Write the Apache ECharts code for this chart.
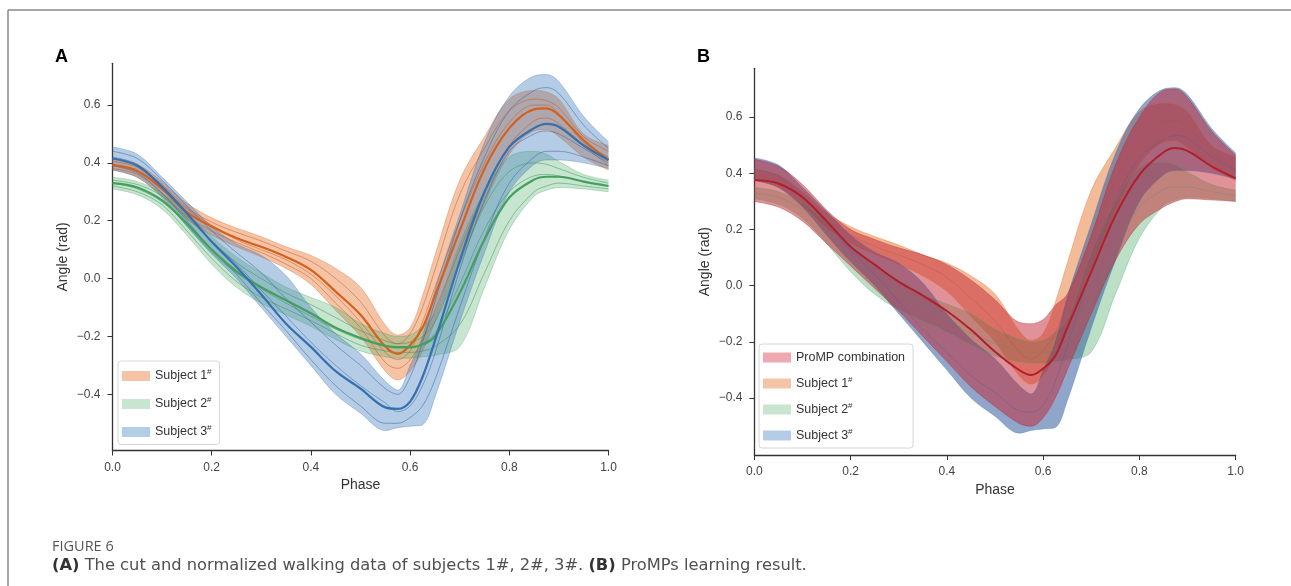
<!DOCTYPE html>
<html><head><meta charset="utf-8">
<script src="https://cdn.jsdelivr.net/npm/echarts@6/dist/echarts.min.js"></script>
<style>html,body{margin:0;padding:0;background:#fff}#c{width:1291px;height:586px}</style>
</head><body><div id="c"></div>
<script>
// ---- data (phase grid and values) ----
const phase = [0,0.05,0.1,0.15,0.2,0.25,0.3,0.35,0.4,0.45,0.5,0.55,0.575,0.6,0.625,0.65,0.7,0.75,0.8,0.85,0.875,0.9,0.95,1.0];
const yTicks = [-0.4,-0.2,0,0.2,0.4,0.6];

const s1Mean  = [0.392,0.372,0.31,0.23,0.18,0.14,0.11,0.075,0.03,-0.045,-0.125,-0.235,-0.26,-0.23,-0.17,-0.06,0.165,0.38,0.52,0.585,0.588,0.565,0.478,0.41];
const s1Upper = [0.415,0.395,0.335,0.26,0.21,0.175,0.145,0.11,0.08,0.035,-0.03,-0.16,-0.195,-0.17,-0.06,0.08,0.34,0.49,0.62,0.65,0.645,0.62,0.50,0.46];
const s1Lower = [0.375,0.35,0.285,0.205,0.15,0.11,0.075,0.035,-0.02,-0.11,-0.2,-0.32,-0.35,-0.32,-0.25,-0.15,0.06,0.26,0.43,0.51,0.515,0.49,0.42,0.375];
const s1TrialA = [0.405,0.385,0.325,0.245,0.195,0.16,0.13,0.095,0.06,0.0,-0.08,-0.2,-0.225,-0.19,-0.1,0.03,0.29,0.45,0.58,0.62,0.615,0.59,0.49,0.44];
const s1TrialB = [0.38,0.36,0.295,0.215,0.165,0.125,0.09,0.05,0.0,-0.085,-0.17,-0.29,-0.31,-0.28,-0.21,-0.11,0.1,0.3,0.46,0.545,0.555,0.535,0.46,0.39];
const s1TrialC = [0.395,0.375,0.315,0.24,0.185,0.135,0.1,0.065,0.015,-0.06,-0.15,-0.255,-0.28,-0.25,-0.15,-0.03,0.2,0.4,0.54,0.6,0.6,0.57,0.47,0.42];

const s2Mean  = [0.33,0.315,0.27,0.19,0.10,0.025,-0.03,-0.075,-0.12,-0.17,-0.205,-0.232,-0.237,-0.237,-0.228,-0.2,-0.05,0.135,0.28,0.342,0.352,0.352,0.335,0.32];
const s2Upper = [0.35,0.335,0.295,0.225,0.145,0.075,0.02,-0.03,-0.065,-0.1,-0.155,-0.19,-0.2,-0.195,-0.165,-0.12,0.12,0.30,0.42,0.44,0.43,0.405,0.36,0.34];
const s2Lower = [0.31,0.29,0.24,0.15,0.05,-0.03,-0.085,-0.125,-0.165,-0.21,-0.25,-0.27,-0.275,-0.275,-0.27,-0.265,-0.235,-0.03,0.17,0.285,0.305,0.315,0.31,0.30];
const s2TrialA = [0.34,0.325,0.285,0.21,0.13,0.055,0.0,-0.05,-0.09,-0.135,-0.18,-0.215,-0.225,-0.22,-0.2,-0.15,0.05,0.25,0.37,0.4,0.395,0.38,0.35,0.33];
const s2TrialB = [0.32,0.3,0.255,0.165,0.07,-0.01,-0.065,-0.105,-0.145,-0.19,-0.23,-0.25,-0.255,-0.255,-0.25,-0.235,-0.16,0.02,0.2,0.3,0.32,0.33,0.32,0.31];
const s2TrialC = [0.33,0.31,0.265,0.185,0.09,0.02,-0.035,-0.085,-0.13,-0.175,-0.21,-0.235,-0.24,-0.24,-0.225,-0.19,-0.02,0.17,0.3,0.355,0.36,0.355,0.335,0.32];

const s3Mean  = [0.415,0.39,0.317,0.225,0.127,0.04,-0.055,-0.156,-0.236,-0.32,-0.38,-0.445,-0.45,-0.425,-0.34,-0.215,0.06,0.30,0.455,0.52,0.535,0.525,0.46,0.41];
const s3Upper = [0.455,0.43,0.35,0.265,0.18,0.12,0.08,0.01,-0.1,-0.19,-0.26,-0.355,-0.385,-0.3,-0.2,-0.04,0.22,0.47,0.63,0.70,0.705,0.68,0.56,0.473];
const s3Lower = [0.375,0.35,0.28,0.18,0.085,0.0,-0.1,-0.2,-0.3,-0.4,-0.465,-0.525,-0.515,-0.51,-0.505,-0.41,-0.15,0.09,0.3,0.395,0.41,0.41,0.40,0.38];
const s3TrialA = [0.44,0.415,0.34,0.25,0.165,0.09,0.02,-0.07,-0.15,-0.23,-0.3,-0.38,-0.4,-0.34,-0.22,-0.08,0.2,0.42,0.58,0.65,0.66,0.64,0.53,0.45];
const s3TrialB = [0.39,0.365,0.295,0.2,0.1,0.015,-0.085,-0.18,-0.28,-0.37,-0.44,-0.5,-0.5,-0.48,-0.44,-0.35,-0.1,0.14,0.33,0.42,0.44,0.44,0.42,0.39];
const s3TrialC = [0.42,0.395,0.32,0.23,0.13,0.05,-0.04,-0.13,-0.22,-0.3,-0.37,-0.43,-0.46,-0.44,-0.37,-0.26,0.03,0.27,0.44,0.5,0.51,0.5,0.45,0.4];

const promMean  = [0.376,0.364,0.315,0.23,0.139,0.075,0.014,-0.035,-0.09,-0.157,-0.235,-0.3,-0.318,-0.295,-0.25,-0.15,0.05,0.25,0.395,0.475,0.49,0.48,0.425,0.382];
const promUpper = [0.45,0.425,0.36,0.27,0.2,0.165,0.135,0.11,0.075,0.02,-0.05,-0.13,-0.135,-0.12,-0.07,-0.03,0.18,0.43,0.6,0.695,0.7,0.67,0.55,0.465];
const promLower = [0.30,0.28,0.23,0.15,0.07,-0.01,-0.09,-0.18,-0.27,-0.36,-0.43,-0.49,-0.5,-0.47,-0.4,-0.3,-0.1,0.09,0.22,0.28,0.30,0.31,0.305,0.30];

const names = ['Subject 1#','Subject 2#','Subject 3#'];
const promName = 'ProMP combination';

// ---- styles ----
const C = {
  s1:{line:'#d4611c', thin:'#c45a1c', fill:'rgba(232,112,40,0.42)'},
  s2:{line:'#44a05e', thin:'#3b8f55', fill:'rgba(70,170,95,0.30)'},
  s3:{line:'#3670ae', thin:'#2f629c', fill:'rgba(60,120,190,0.38)'},
  pr:{line:'#c0182a', fill:'rgba(214,39,60,0.40)'}
};
const CB = {
  s1:{line:'#d9651f', fill:'rgba(232,112,40,0.48)'},
  s2:{line:'#48a462', fill:'rgba(70,170,95,0.36)'},
  s3:{line:'#3a74b2', fill:'rgba(55,95,160,0.56)'},
  pr:{line:'#b0202c', fill:'rgba(195,35,50,0.50)'}
};
const SM = 0.35;
const FONT = 'Liberation Sans';

const pts = arr => phase.map((x,i)=>[x,arr[i]]);
// value-first pairs so that stacking acts on the value (y) dimension
const vPts = arr => phase.map((x,i)=>[arr[i],x]);
const vGap = (up,lo) => phase.map((x,i)=>[+(up[i]-lo[i]).toFixed(4),x]);

function band(name, g, lo, up, col, id){
  return [
    {type:'line', name:'_lo_'+id, xAxisIndex:g, yAxisIndex:g, stack:id, stackStrategy:'all', data:vPts(lo), encode:{x:1,y:0},
     symbol:'none', smooth:SM, lineStyle:{color:col.line, width:0.8, opacity:0.4}, silent:true},
    {type:'line', name:name, xAxisIndex:g, yAxisIndex:g, stack:id, stackStrategy:'all', data:vGap(up,lo), encode:{x:1,y:0},
     symbol:'none', smooth:SM, lineStyle:{color:col.line, width:0.8, opacity:0.4}, itemStyle:{color:col.fill},
     areaStyle:{color:col.fill, opacity:1}, silent:true}
  ];
}
function line(name, g, arr, color, width, opacity){
  return {type:'line', name:name, xAxisIndex:g, yAxisIndex:g, data:pts(arr), symbol:'none', smooth:SM,
    lineStyle:{color:color, width:width, opacity:opacity}, itemStyle:{color:color}, silent:true};
}

const series = [];
// Panel A
series.push(...band(names[0],0,s1Lower,s1Upper,C.s1,'a1'));
series.push(...band(names[1],0,s2Lower,s2Upper,C.s2,'a2'));
series.push(...band(names[2],0,s3Lower,s3Upper,C.s3,'a3'));
[s1TrialA,s1TrialB,s1TrialC].forEach((t,i)=>series.push(line('_t1'+i,0,t,C.s1.thin,0.9,0.55)));
[s2TrialA,s2TrialB,s2TrialC].forEach((t,i)=>series.push(line('_t2'+i,0,t,C.s2.thin,0.9,0.55)));
[s3TrialA,s3TrialB,s3TrialC].forEach((t,i)=>series.push(line('_t3'+i,0,t,C.s3.thin,0.9,0.55)));
series.push(line('_m1',0,s1Mean,C.s1.line,2.2,1));
series.push(line('_m2',0,s2Mean,C.s2.line,2.2,1));
series.push(line('_m3',0,s3Mean,C.s3.line,2.2,1));
// Panel B
series.push(...band('_s1b',1,s1Lower,s1Upper,CB.s1,'b1'));
series.push(...band('_s2b',1,s2Lower,s2Upper,CB.s2,'b2'));
series.push(...band('_s3b',1,s3Lower,s3Upper,CB.s3,'b3'));
series.push(...band(promName,1,promLower,promUpper,CB.pr,'bp'));
series.push(line('_bm1',1,s1Mean,'#a05a40',1,0.35));
series.push(line('_bm2',1,s2Mean,'#6a8a60',1,0.35));
series.push(line('_bm3',1,s3Mean,'#5a6090',1,0.4));
series.push(line('_bmp',1,promMean,CB.pr.line,2,1));

const fmtY = v => (v<-1e-9?'\u2212':'') + Math.abs(v).toFixed(1);
function xAx(g){
  return {type:'value', gridIndex:g, min:0, max:1, interval:0.2, name:'Phase', nameLocation:'middle', nameGap:22,
    nameTextStyle:{fontFamily:FONT, fontSize:14, color:'#333'},
    axisLine:{onZero:false, lineStyle:{color:'#333', width:1.3}}, axisTick:{length:5, lineStyle:{color:'#333'}},
    axisLabel:{fontFamily:FONT, fontSize:12, color:'#444', margin:11, formatter:v=>v.toFixed(1)},
    splitLine:{show:false}};
}
function yAx(g,min,max,gapN){
  return {type:'value', gridIndex:g, min:min, max:max, name:'Angle (rad)', nameLocation:'middle', nameGap:gapN,
    nameTextStyle:{fontFamily:FONT, fontSize:14, color:'#333'},
    axisLine:{show:true, onZero:false, lineStyle:{color:'#333', width:1.3}},
    axisTick:{show:true, length:5, lineStyle:{color:'#333'}, customValues:yTicks},
    axisLabel:{fontFamily:FONT, fontSize:12, color:'#444', margin:12, customValues:yTicks, formatter:fmtY},
    splitLine:{show:false}};
}
const swatch = {[names[0]]:C.s1.fill,[names[1]]:C.s2.fill,[names[2]]:C.s3.fill,[promName]:C.pr.fill};
function legendItems(list){
  return list.map(n=>({name:n, icon:'rect', itemStyle:{color:swatch[n], borderWidth:0}}));
}
const legendCommon = {orient:'vertical', itemWidth:28, itemHeight:10, itemTextGap:10,
  selectedMode:false, borderColor:'#d6d6d6', borderWidth:1, borderRadius:3, backgroundColor:'rgba(255,255,255,0.85)',
  padding:[7,8,6,4],
  formatter: n => n.replace('#','{sup|#}'),
  textStyle:{fontFamily:FONT, fontSize:12.5, color:'#333',
    rich:{sup:{fontFamily:FONT, fontSize:8, color:'#333', padding:[0,0,8,0]}}}};

const option = {
  animation:false,
  backgroundColor:'#fff',
  grid:[
    {left:112.5, top:63.3, width:496, height:387.2},
    {left:754.4, top:68.3, width:481.3, height:386.7}
  ],
  xAxis:[xAx(0), xAx(1)],
  yAxis:[yAx(0,-0.594,0.744,42), yAx(1,-0.6025,0.774,42)],
  legend:[
    Object.assign({}, legendCommon, {left:118, top:361, itemGap:13.5, data:legendItems(names)}),
    Object.assign({}, legendCommon, {left:759, top:344, itemGap:11.5, data:legendItems([promName].concat(names))})
  ],
  graphic:[
    {type:'line', shape:{x1:8, y1:10, x2:1291, y2:10}, style:{stroke:'#8a8a8a', lineWidth:1.5}},
    {type:'line', shape:{x1:8, y1:10, x2:8, y2:586}, style:{stroke:'#8a8a8a', lineWidth:1.5}},
    {type:'text', left:55, top:48, style:{text:'A', font:'bold 18px "Liberation Sans"', fill:'#000'}},
    {type:'text', left:697, top:48, style:{text:'B', font:'bold 18px "Liberation Sans"', fill:'#000'}},
    {type:'text', left:52, top:539, style:{text:'FIGURE 6', font:'14.5px "Open Sans"', fill:'#555'}},
    {type:'text', left:52, top:558, style:{
      text:'{b|(A)} The cut and normalized walking data of subjects 1#, 2#, 3#. {b|(B)} ProMPs learning result.',
      font:'16.3px "DejaVu Sans"', fill:'#505050',
      rich:{b:{font:'bold 16.3px "DejaVu Sans"', fill:'#333'}}}}
  ],
  series:series
};
const chart = echarts.init(document.getElementById('c'), null, {renderer:'canvas'});
chart.setOption(option);
</script></body></html>
